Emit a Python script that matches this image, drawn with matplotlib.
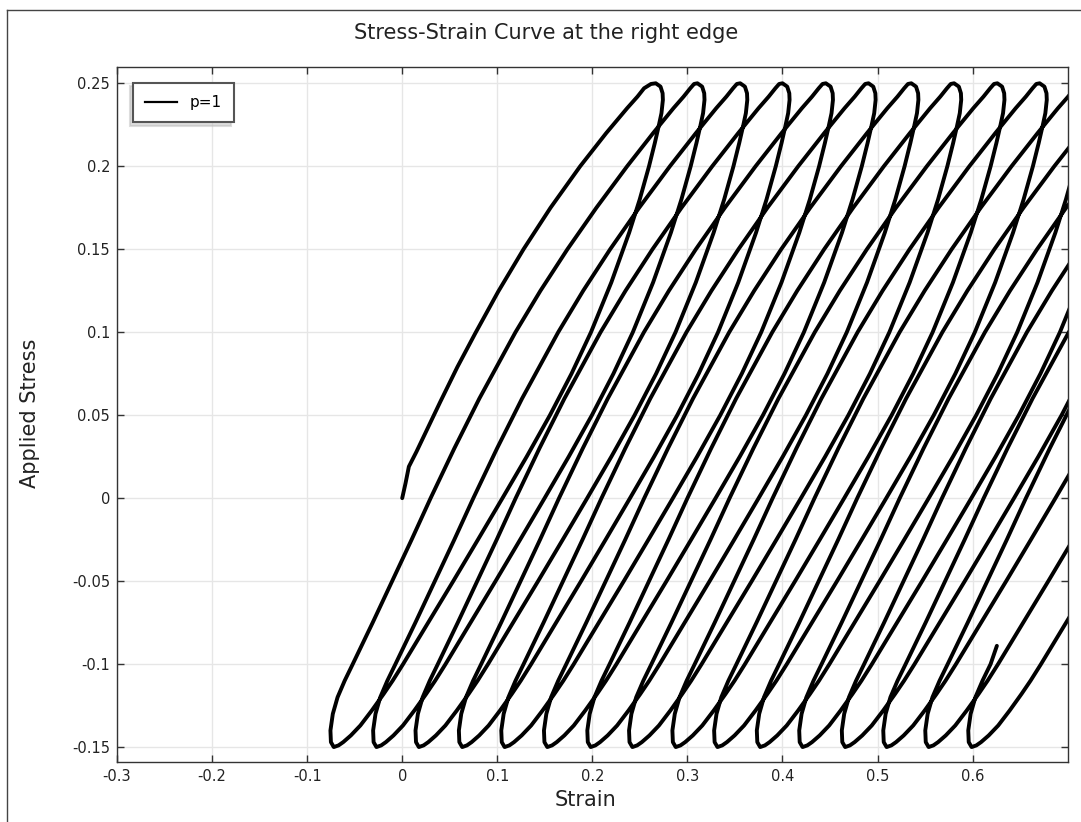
import matplotlib
matplotlib.use('Agg')
import matplotlib.pyplot as plt
from matplotlib.lines import Line2D

plt.rcParams['font.family'] = ['DejaVu Sans']
plt.rcParams['axes.unicode_minus'] = False

# ---------------- data ----------------
# first (virgin) loading branch, absolute strain / stress
first_load_strain = [0.000, 0.0035, 0.007, 0.015, 0.025, 0.040, 0.058, 0.077, 0.101,
                     0.1276, 0.156, 0.1872, 0.2146, 0.2366, 0.2475, 0.2544, 0.2617, 0.2667]
first_load_stress = [0.000, 0.009, 0.019, 0.028, 0.040, 0.058, 0.079, 0.0995, 0.1245,
                     0.150, 0.175, 0.200, 0.220, 0.235, 0.242, 0.247, 0.2496, 0.2500]

# reloading branch shape (strain measured from the valley tip)
load_stress = [-0.150, -0.147, -0.140, -0.130, -0.120, -0.110, -0.100, -0.075, -0.050,
               -0.025, 0.000, 0.030, 0.060, 0.100, 0.125, 0.150, 0.175, 0.200,
               0.220, 0.235, 0.242, 0.247, 0.2496, 0.250]
load_offset = [0.000, -0.003, -0.0035, -0.001, 0.004, 0.0115, 0.020, 0.041, 0.0615,
               0.082, 0.102, 0.127, 0.1533, 0.1914, 0.2177, 0.2461, 0.2766, 0.309,
               0.3364, 0.3578, 0.3685, 0.3755, 0.3795, 0.383]

# unloading branch shape (strain measured from the peak tip)
unload_stress = [0.250, 0.248, 0.244, 0.240, 0.232, 0.224, 0.214, 0.200, 0.180, 0.160,
                 0.130, 0.100, 0.075, 0.050, 0.025, 0.000, -0.025, -0.050, -0.0685,
                 -0.085, -0.100, -0.110, -0.118, -0.128, -0.137, -0.143, -0.147,
                 -0.149, -0.150]
unload_offset = [0.000, 0.005, 0.0072, 0.0075, 0.006, 0.003, -0.001, -0.0071, -0.0169,
                 -0.028, -0.0468, -0.0682, -0.0887, -0.1114, -0.1359, -0.1614, -0.1872,
                 -0.2132, -0.2327, -0.250, -0.266, -0.277, -0.2865, -0.299, -0.311,
                 -0.321, -0.329, -0.334, -0.339]

# tip positions of every cycle
peak_strain = [0.2667, 0.3105, 0.3555, 0.4000, 0.4456, 0.4905, 0.5355, 0.5805,
               0.6260, 0.6705, 0.7150, 0.7600, 0.8050, 0.8485, 0.8930, 0.9380]
valley_strain = [-0.0720, -0.0271, 0.0175, 0.0631, 0.1077, 0.1526, 0.1982, 0.2421,
                 0.2877, 0.3316, 0.3765, 0.4211, 0.4659, 0.5095, 0.5537, 0.5989]
end_strain, end_stress = 0.6255, -0.089

# ---------------- assemble the curve ----------------
xs = list(first_load_strain)
ys = list(first_load_stress)
n = len(valley_strain)
for k in range(n):
    p, v = peak_strain[k], valley_strain[k]
    sc = (v - p) / unload_offset[-1]
    xs += [p + o * sc for o in unload_offset[1:]]
    ys += unload_stress[1:]
    if k < n - 1:
        sc = (peak_strain[k + 1] - v) / load_offset[-1]
        xs += [v + o * sc for o in load_offset[1:]]
        ys += load_stress[1:]
    else:
        for o, s in zip(load_offset[1:], load_stress[1:]):
            if s < end_stress:
                xs.append(v + o)
                ys.append(s)
        xs.append(end_strain)
        ys.append(end_stress)

# ---------------- figure ----------------
W, H = 1081, 822
fig = plt.figure(figsize=(W / 100, H / 100), dpi=100)
ax = fig.add_axes([117 / W, 1 - 762 / H, (1067.7 - 117) / W, (762 - 66.7) / H])

ax.plot(xs, ys, color='black', lw=2.8, solid_joinstyle='round', solid_capstyle='round')

ax.set_xlim(-0.3, 0.7)
ax.set_ylim(-0.159, 0.26)
xt = [-0.3, -0.2, -0.1, 0, 0.1, 0.2, 0.3, 0.4, 0.5, 0.6]
xl = ['-0.3', '-0.2', '-0.1', '0', '0.1', '0.2', '0.3', '0.4', '0.5', '0.6']
yt = [-0.15, -0.1, -0.05, 0, 0.05, 0.1, 0.15, 0.2, 0.25]
yl = ['-0.15', '-0.1', '-0.05', '0', '0.05', '0.1', '0.15', '0.2', '0.25']
ax.set_xticks(xt)
ax.set_xticklabels(xl)
ax.set_yticks(yt)
ax.set_yticklabels(yl)
ax.tick_params(direction='in', top=True, right=True, length=5, width=1,
               color='#333333', labelsize=10.5, labelcolor='#222222', pad=5)
ax.grid(True, color='#e6e6e6', lw=1)
ax.set_axisbelow(True)
for s in ax.spines.values():
    s.set_color('#333333')
    s.set_linewidth(1)

ax.set_xlabel('Strain', fontsize=15, color='#222222')
ax.set_ylabel('Applied Stress', fontsize=15, color='#222222')
ax.xaxis.set_label_coords((585 - 117) / 950.7, (762 - 790) / 695.3)
ax.yaxis.set_label_coords((40 - 117) / 950.7, (762 - 413) / 695.3)
fig.text(546 / W, 1 - 33 / H, 'Stress-Strain Curve at the right edge', fontsize=15,
         ha='center', va='center', color='#222222')

h = Line2D([], [], color='black', lw=1.6)
leg = ax.legend([h], ['p=1'], loc='upper left', fontsize=11, fancybox=False,
                framealpha=1, edgecolor='#555555', handlelength=2.1,
                handletextpad=0.8, borderpad=0.8, borderaxespad=1.05,
                shadow={'ox': -2.4, 'oy': -2.4, 'color': '#bdbdbd'})
leg.get_frame().set_linewidth(1.5)

# outer frame of the picture
fig.add_artist(Line2D([7 / W, 7 / W], [0, 1 - 10 / H], color='#444444', lw=1,
                      transform=fig.transFigure))
fig.add_artist(Line2D([7 / W, 1], [1 - 10 / H, 1 - 10 / H], color='#444444', lw=1,
                      transform=fig.transFigure))

fig.savefig('out.png', dpi=100)
